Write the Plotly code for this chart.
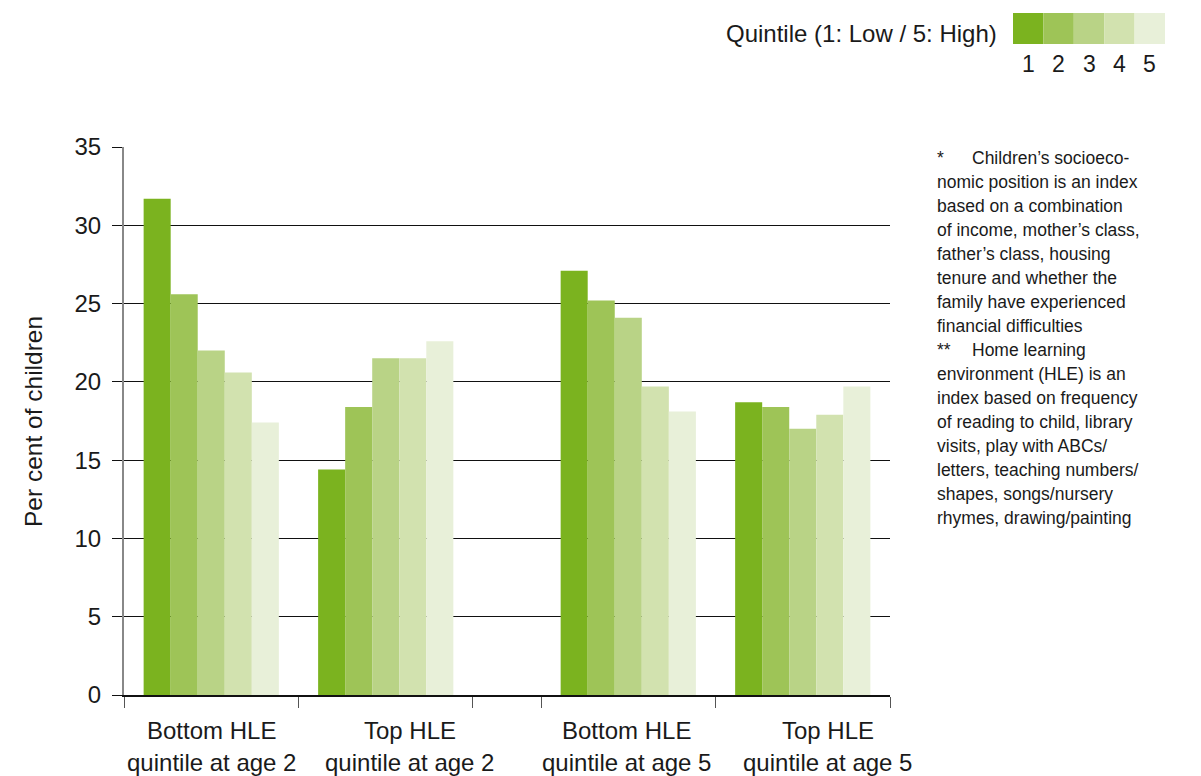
import plotly.graph_objects as go

# ---- data ----
categories = ["Bottom HLE\nquintile at age 2", "Top HLE\nquintile at age 2",
              "Bottom HLE\nquintile at age 5", "Top HLE\nquintile at age 5"]
quintile_names = ["1", "2", "3", "4", "5"]
q1 = [31.7, 14.4, 27.1, 18.7]
q2 = [25.6, 18.4, 25.2, 18.4]
q3 = [22.0, 21.5, 24.1, 17.0]
q4 = [20.6, 21.5, 19.7, 17.9]
q5 = [17.4, 22.6, 18.1, 19.7]
series = [q1, q2, q3, q4, q5]
y_ticks = [0, 5, 10, 15, 20, 25, 30, 35]
legend_title = "Quintile (1: Low / 5: High)"
y_title = "Per cent of children"
notes = [
    ("*", "Children’s socioeco-"),
    ("", "nomic position is an index"),
    ("", "based on a combination"),
    ("", "of income, mother’s class,"),
    ("", "father’s class, housing"),
    ("", "tenure and whether the"),
    ("", "family have experienced"),
    ("", "financial difficulties"),
    ("**", "Home learning"),
    ("", "environment (HLE) is an"),
    ("", "index based on frequency"),
    ("", "of reading to child, library"),
    ("", "visits, play with ABCs/"),
    ("", "letters, teaching numbers/"),
    ("", "shapes, songs/nursery"),
    ("", "rhymes, drawing/painting"),
]

# ---- styles ----
colors = ["#7bb31f", "#9ec457", "#b9d386", "#d2e2af", "#e8f0d9"]
FONT = "Liberation Sans, Arial, sans-serif"
TXT = "#1a1a1a"
W, H = 1201, 776
L, R, T, B = 124, 890, 147, 695
AGE_GAP = 0.39  # extra spacing between the age-2 and age-5 pairs
LABEL_XSHIFT = [0, 24, -2, 25]  # pixel nudges of the category labels

def px_x(px):
    return (px - L) / (R - L)

def px_y(py):
    return (B - py) / (B - T)

# category centres and boundaries
centers = []
bounds = [0.0]
pos = 0.0
for i, _ in enumerate(categories):
    if i == 2:
        pos += AGE_GAP
        bounds.append(pos)
    centers.append(pos + 0.5)
    pos += 1.0
    bounds.append(pos)
x_max = pos

fig = go.Figure()
for name, vals, col in zip(quintile_names, series, colors):
    fig.add_trace(go.Bar(x=centers, y=vals, name=name,
                         marker=dict(color=col, line=dict(width=0)),
                         showlegend=False))

fig.update_layout(
    width=W, height=H,
    margin=dict(l=L, r=W - R, t=T, b=H - B),
    paper_bgcolor="white", plot_bgcolor="white",
    barmode="group", bargap=0.225, bargroupgap=0,
    font=dict(family=FONT, color=TXT),
    xaxis=dict(range=[0, x_max], tickvals=bounds, ticktext=[""] * len(bounds),
               ticks="outside", ticklen=11, tickwidth=1.2, tickcolor="#555",
               showline=True, linecolor="#111", linewidth=1.5,
               showgrid=False, zeroline=False, fixedrange=True),
    yaxis=dict(range=[0, 35], tickvals=y_ticks, ticks="outside", ticklen=10,
               tickwidth=1.2, tickcolor="#111",
               tickfont=dict(size=24, color=TXT), ticklabelstandoff=6,
               showline=True, linecolor="#888", linewidth=2,
               showgrid=True, gridcolor="#111", gridwidth=1.3,
               zeroline=False, fixedrange=True),
)

annotations = []
# x category labels
for c, lab, dx in zip(centers, categories, LABEL_XSHIFT):
    lines = lab.split("\n")
    for j, ln in enumerate(lines):
        annotations.append(dict(x=c, xref="x", y=px_y(730 + j * 32), yref="paper",
                                text=ln, showarrow=False, xanchor="center",
                                yanchor="middle", xshift=dx,
                                font=dict(size=24, color=TXT)))
# y title
annotations.append(dict(x=px_x(33), y=px_y(422), xref="paper", yref="paper",
                        text=y_title, textangle=-90, showarrow=False,
                        xanchor="center", yanchor="middle",
                        font=dict(size=24.5, color=TXT)))
# notes
NOTE_SIZE = 17.5
for k, (mark, ln) in enumerate(notes):
    yy = px_y(158 + k * 24)
    if mark:
        annotations.append(dict(x=px_x(935), y=yy, xref="paper", yref="paper",
                                text=mark, showarrow=False, xanchor="left",
                                yanchor="middle", font=dict(size=NOTE_SIZE, color=TXT)))
        x0 = 970
    else:
        x0 = 935
    annotations.append(dict(x=px_x(x0), y=yy, xref="paper", yref="paper",
                            text=ln, showarrow=False, xanchor="left",
                            yanchor="middle", font=dict(size=NOTE_SIZE, color=TXT)))
# custom legend
annotations.append(dict(x=px_x(999), y=px_y(34), xref="paper", yref="paper",
                        text=legend_title, showarrow=False, xanchor="right",
                        yanchor="middle", font=dict(size=24, color=TXT)))
shapes = []
sw0, sww = 1013, 30.4
for i, (name, col) in enumerate(zip(quintile_names, colors)):
    x0 = sw0 + i * sww
    shapes.append(dict(type="rect", xref="paper", yref="paper",
                       x0=px_x(x0), x1=px_x(x0 + sww), y0=px_y(44), y1=px_y(13),
                       fillcolor=col, line=dict(width=0)))
    annotations.append(dict(x=px_x(x0 + sww / 2), y=px_y(64), xref="paper",
                            yref="paper", text=name, showarrow=False,
                            xanchor="center", yanchor="middle",
                            font=dict(size=23, color=TXT)))

fig.update_layout(annotations=annotations, shapes=shapes)
fig.write_html("out.html", config={"displayModeBar": False},
               post_script="document.body.style.margin='0';"
                           "document.body.style.overflow='hidden';")
